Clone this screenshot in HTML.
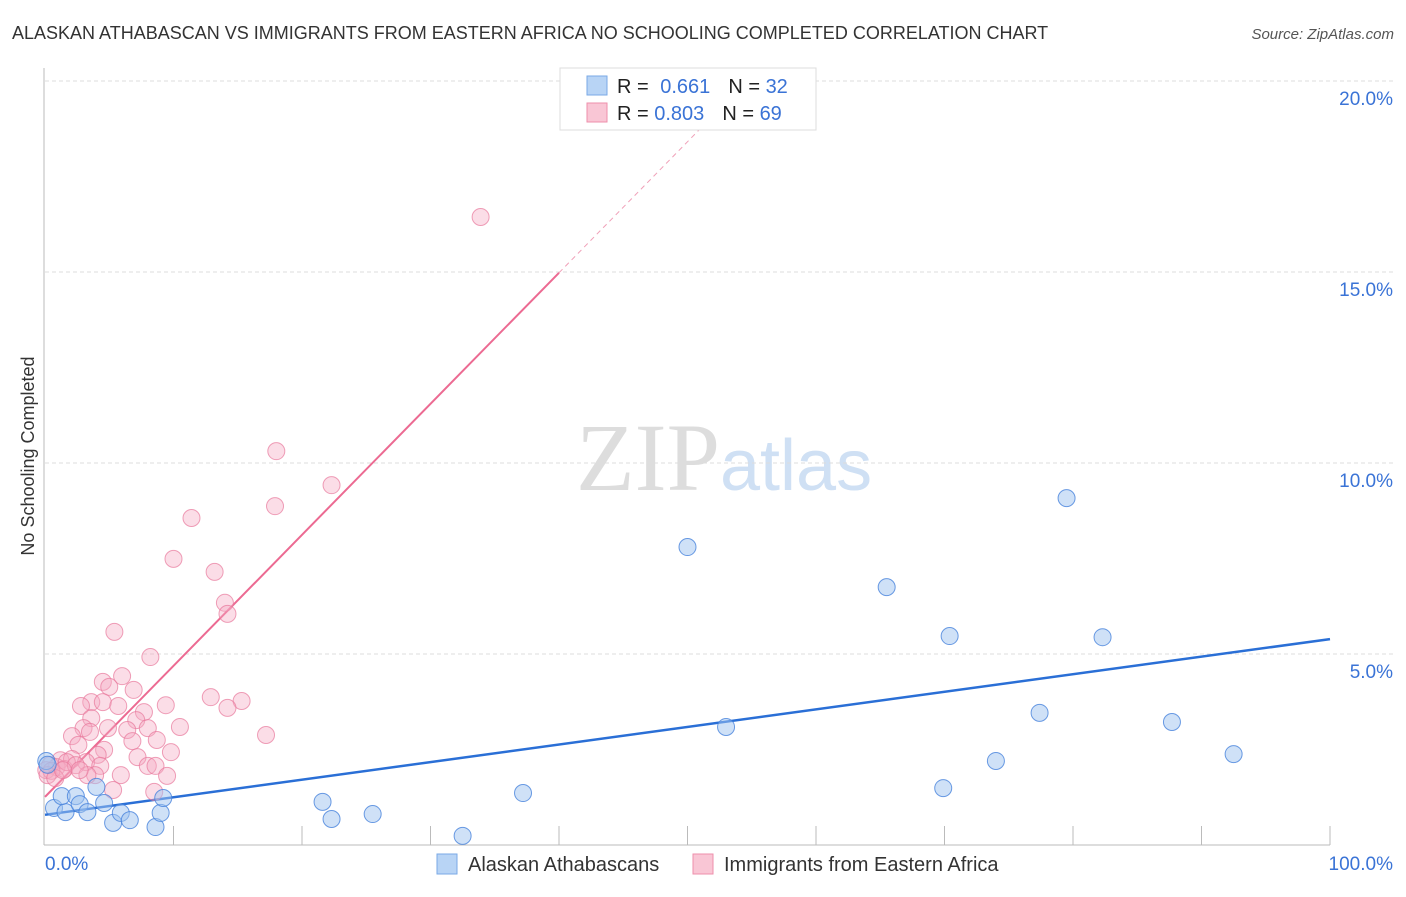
<!DOCTYPE html>
<html><head><meta charset="utf-8"><style>
body{margin:0;background:#fff;font-family:"Liberation Sans",sans-serif;}
svg text{font-family:"Liberation Sans",sans-serif;}
</style></head><body>
<svg id="chart" width="1406" height="892" xmlns="http://www.w3.org/2000/svg">
<text x="12" y="39" font-size="18" fill="#333">ALASKAN ATHABASCAN VS IMMIGRANTS FROM EASTERN AFRICA NO SCHOOLING COMPLETED CORRELATION CHART</text>
<text x="1394" y="39" font-size="15" fill="#555" font-style="italic" text-anchor="end">Source: ZipAtlas.com</text>
<text x="34" y="456" font-size="18" fill="#333" text-anchor="middle" transform="rotate(-90 34 456)">No Schooling Completed</text>
<text x="720" y="490" font-size="96" fill="#ddd" text-anchor="end" font-family="Liberation Serif" style="font-family:'Liberation Serif',serif">ZIP</text>
<text x="720" y="490" font-size="72" fill="#cfe0f4">atlas</text>
<g id="grid"></g><g id="axes"></g><g id="lines"></g><g id="pts"></g>
<g>
<rect x="560" y="68" width="256" height="62" fill="#fff" stroke="#ddd"/>
<rect x="587" y="76" width="20" height="19" fill="#b8d4f5" stroke="#7aa9e6"/>
<rect x="587" y="103" width="20" height="19" fill="#f9c6d5" stroke="#ee8fab"/>
<text x="617" y="93" font-size="20" fill="#222">R = <tspan fill="#3a73d6" dx="6">0.661</tspan><tspan dx="18" fill="#222">N = </tspan><tspan fill="#3a73d6">32</tspan></text>
<text x="617" y="120" font-size="20" fill="#222">R = <tspan fill="#3a73d6">0.803</tspan><tspan dx="18" fill="#222">N = </tspan><tspan fill="#3a73d6">69</tspan></text>
</g>
<g>
<rect x="437" y="854" width="20" height="20" fill="#b8d4f5" stroke="#7aa9e6"/>
<text x="468" y="871" font-size="20" fill="#333">Alaskan Athabascans</text>
<rect x="693" y="854" width="20" height="20" fill="#f9c6d5" stroke="#ee8fab"/>
<text x="724" y="871" font-size="20" fill="#333">Immigrants from Eastern Africa</text>
</g>
</svg>
<script>
const xTicks=[0,10,20,30,40,50,60,70,80,90,100];
const yTicks=[5,10,15,20];
const blueX=[0.7,1.6,1.3,2.4,2.7,3.3,4.0,4.6,5.3,5.9,6.6,8.6,9.0,9.2,0.1,0.2,21.6,22.3,25.5,32.5,37.2,50,53,65.5,69.9,70.4,74,77.4,79.5,82.3,87.7,92.5];
const blueY=[0.97,0.86,1.28,1.28,1.07,0.86,1.52,1.1,0.58,0.84,0.65,0.47,0.84,1.23,2.2,2.1,1.13,0.68,0.81,0.24,1.36,7.8,3.09,6.75,1.49,5.47,2.2,3.46,9.08,5.44,3.22,2.38];
const pinkX=[33.9,18,22.3,17.9,11.4,10,13.2,14,14.2,5.4,8.2,6,4.5,5,6.9,3.6,4.5,12.9,15.3,2.8,5.7,9.4,7.7,14.2,3.6,7.1,3,4.9,6.4,8,10.5,17.2,2.1,3.5,6.8,8.7,2.6,4.6,9.8,4.1,7.2,1.2,2.1,3.2,0.4,0.9,1.5,8,8.6,4.3,0.1,0.5,1.7,2.4,3.9,5.9,3.3,9.5,5.3,8.5,0.2,0.8,1.4,2.7];
const pinkY=[16.44,10.31,9.42,8.87,8.56,7.49,7.15,6.34,6.05,5.58,4.92,4.42,4.27,4.14,4.06,3.74,3.74,3.87,3.77,3.64,3.64,3.66,3.48,3.59,3.32,3.27,3.06,3.06,3.01,3.06,3.09,2.88,2.85,2.96,2.72,2.75,2.62,2.49,2.43,2.36,2.3,2.22,2.25,2.17,2.09,2.04,1.99,2.07,2.07,2.07,1.96,1.94,2.17,2.09,1.83,1.83,1.83,1.81,1.44,1.39,1.83,1.75,1.96,1.96];
const blueFit=[0.79,5.39];
const pinkFit=[1.26,0.343];
const X=v=>45+v*12.85, Y=v=>845-v*38.2;
const NS="http://www.w3.org/2000/svg";
function mk(t,a,p){const e=document.createElementNS(NS,t);for(const k in a)e.setAttribute(k,a[k]);document.getElementById(p).appendChild(e);return e;}
yTicks.forEach(v=>{
 const l=mk('line',{x1:45,x2:1394,y1:Y(v),y2:Y(v),stroke:'#ddd','stroke-dasharray':'4,3'},'grid');
 
 
 const t=mk('text',{x:1393,y:Y(v)+24,'font-size':19,fill:'#3a73d6','text-anchor':'end'},'grid');
 t.textContent=v.toFixed(1)+'%';
 
 
});
mk('line',{x1:44,x2:44,y1:68,y2:845,stroke:'#bbb'},'axes');
mk('line',{x1:44,x2:1330,y1:845,y2:845,stroke:'#bbb'},'axes');
xTicks.forEach(v=>{if(v>0){const l=mk('line',{x1:X(v),x2:X(v),y1:826,y2:845,stroke:'#bbb'},'axes');
 
 }});
let t=mk('text',{x:45,y:870,'font-size':19,fill:'#3a73d6'},'axes');t.textContent=xTicks[0].toFixed(1)+'%';


t=mk('text',{x:1393,y:870,'font-size':19,fill:'#3a73d6','text-anchor':'end'},'axes');t.textContent=xTicks[xTicks.length-1].toFixed(1)+'%';


pinkX.forEach((x,i)=>{const c=mk('circle',{cx:X(x),cy:Y(pinkY[i]),r:8.5,fill:'rgba(246,170,195,0.4)',stroke:'rgba(232,120,155,0.7)','stroke-width':1},'pts');
 
 });
blueX.forEach((x,i)=>{const c=mk('circle',{cx:X(x),cy:Y(blueY[i]),r:8.5,fill:'rgba(160,196,240,0.5)',stroke:'rgba(70,130,220,0.8)','stroke-width':1},'pts');
 
 });
let l=mk('line',{x1:X(0),y1:Y(blueFit[0]),x2:X(100),y2:Y(blueFit[1]),stroke:'#2a6fd6','stroke-width':2.5},'lines');


l=mk('line',{x1:X(0),y1:Y(pinkFit[0]),x2:X(40),y2:Y(pinkFit[0]+pinkFit[1]*40),stroke:'#ec6a92','stroke-width':2},'lines');


l=mk('line',{x1:X(40),y1:Y(pinkFit[0]+pinkFit[1]*40),x2:X(52),y2:Y(pinkFit[0]+pinkFit[1]*52),stroke:'#f0a0b8','stroke-width':1,'stroke-dasharray':'5,4'},'lines');


</script>
</body></html>
